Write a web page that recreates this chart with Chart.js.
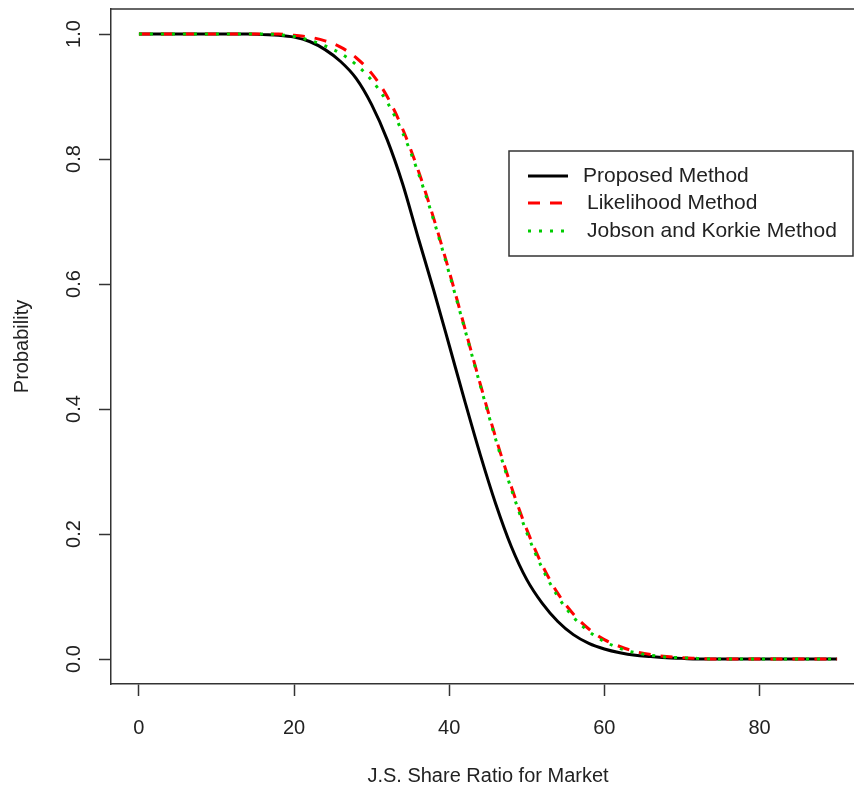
<!DOCTYPE html>
<html>
<head>
<meta charset="utf-8">
<script src="https://cdn.jsdelivr.net/npm/chart.js@4"></script>
<style>
  html, body { margin: 0; padding: 0; background: #fff; overflow: hidden; }
</style>
</head>
<body>
<canvas id="prob-chart" width="880" height="795"></canvas>
<script>
// share ratio values (x) shared by the three curves
const shareRatio = [0, 2, 4, 6, 8, 10, 12, 14, 16, 18, 20, 22, 24, 26, 28, 30, 32, 34, 36, 38, 40, 42, 44,
    46, 48, 50, 52, 54, 56, 58, 60, 62, 64, 66, 68, 70, 72, 74, 76, 78, 80, 82, 84, 86, 88, 90];

const proposedMethod = [1, 1, 1, 1, 1, 1, 1, 1, 0.999, 0.998, 0.995, 0.988, 0.975, 0.956, 0.929, 0.887,
    0.831, 0.760, 0.674, 0.590, 0.502, 0.413, 0.327, 0.248, 0.180, 0.127, 0.089, 0.060, 0.039, 0.025,
    0.016, 0.010, 0.006, 0.004, 0.002, 0.001, 0, 0, 0, 0, 0, 0, 0, 0, 0, 0];

const likelihoodMethod = [1, 1, 1, 1, 1, 1, 1, 1, 1, 1, 0.998, 0.995, 0.989, 0.979, 0.962, 0.937,
    0.900, 0.848, 0.782, 0.705, 0.620, 0.530, 0.440, 0.354, 0.276, 0.207, 0.150, 0.105, 0.072, 0.048,
    0.031, 0.020, 0.012, 0.007, 0.004, 0.002, 0.001, 0, 0, 0, 0, 0, 0, 0, 0, 0];

const jobsonKorkieMethod = [1, 1, 1, 1, 1, 1, 1, 1, 1, 0.999, 0.996, 0.990, 0.981, 0.969, 0.951, 0.926,
    0.891, 0.842, 0.778, 0.702, 0.617, 0.528, 0.438, 0.351, 0.272, 0.202, 0.145, 0.100, 0.067, 0.044,
    0.028, 0.017, 0.010, 0.006, 0.003, 0.002, 0.001, 0, 0, 0, 0, 0, 0, 0, 0, 0];

const xTickValues = [0, 20, 40, 60, 80];
const yTickValues = [0, 0.2, 0.4, 0.6, 0.8, 1.0];

const seriesLabels = ['Proposed Method', 'Likelihood Method', 'Jobson and Korkie Method'];

const toPoints = (ys) => shareRatio.map((x, i) => ({ x: x, y: ys[i] }));

const axisColor = '#333';
const textColor = '#222';
const fontFamily = '"Liberation Sans", Arial, sans-serif';

// y tick labels are rotated like in R, so they are drawn here
const rotatedYLabels = {
    id: 'rotatedYLabels',
    afterDraw(chart) {
        const ctx = chart.ctx;
        const yScale = chart.scales.y;
        ctx.save();
        ctx.fillStyle = textColor;
        ctx.font = '20px ' + fontFamily;
        ctx.textAlign = 'center';
        ctx.textBaseline = 'middle';
        yScale.ticks.forEach(t => {
            const py = yScale.getPixelForValue(t.value);
            ctx.save();
            ctx.translate(74, py);
            ctx.rotate(-Math.PI / 2);
            ctx.fillText(t.value.toFixed(1), 0, 0);
            ctx.restore();
        });
        ctx.restore();
    }
};

// top line of the box and the boxed legend
const boxAndLegend = {
    id: 'boxAndLegend',
    afterDraw(chart) {
        const ctx = chart.ctx;
        const area = chart.chartArea;
        ctx.save();
        ctx.strokeStyle = axisColor;
        ctx.lineWidth = 1.5;
        ctx.beginPath();
        ctx.moveTo(area.left, area.top);
        ctx.lineTo(area.right, area.top);
        ctx.stroke();

        // legend
        ctx.fillStyle = '#fff';
        ctx.fillRect(509, 151, 344, 105);
        ctx.strokeRect(509, 151, 344, 105);
        const rowY = [176, 203, 231];
        const textX = [583, 587, 587];
        chart.data.datasets.forEach((ds, i) => {
            ctx.strokeStyle = ds.borderColor;
            ctx.lineWidth = ds.borderWidth;
            ctx.setLineDash(ds.borderDash || []);
            ctx.beginPath();
            ctx.moveTo(528, rowY[i]);
            ctx.lineTo(568, rowY[i]);
            ctx.stroke();
            ctx.setLineDash([]);
            ctx.fillStyle = textColor;
            ctx.font = '21px ' + fontFamily;
            ctx.textAlign = 'left';
            ctx.textBaseline = 'middle';
            ctx.fillText(ds.label, textX[i], rowY[i]);
        });
        ctx.restore();
    }
};

const chartElement = document.getElementById('prob-chart').getContext('2d');

const probChart = new Chart(chartElement, {
    type: 'line',
    data: {
        datasets: [{
            label: seriesLabels[0],
            data: toPoints(proposedMethod),
            borderColor: '#000000',
            borderWidth: 3,
            order: 3
        }, {
            label: seriesLabels[1],
            data: toPoints(likelihoodMethod),
            borderColor: '#ff0000',
            borderWidth: 3,
            borderDash: [12, 10],
            order: 2
        }, {
            label: seriesLabels[2],
            data: toPoints(jobsonKorkieMethod),
            borderColor: '#00cc00',
            borderWidth: 3,
            borderDash: [3, 8],
            order: 1
        }]
    },
    options: {
        responsive: false,
        animation: false,
        devicePixelRatio: 1,
        layout: { padding: { top: 9, right: 15, left: 0, bottom: 0 } },
        elements: {
            point: { radius: 0 },
            line: { cubicInterpolationMode: 'monotone', fill: false }
        },
        plugins: {
            legend: { display: false },
            tooltip: { enabled: false }
        },
        scales: {
            x: {
                type: 'linear',
                min: -3.6,
                max: 93.6,
                afterBuildTicks: s => { s.ticks = xTickValues.map(v => ({ value: v })); },
                afterFit: s => { s.height = 111; },
                grid: { drawOnChartArea: false, drawTicks: true, tickLength: 12, color: axisColor, tickWidth: 1.5 },
                border: { display: true, color: axisColor, width: 1.5 },
                ticks: {
                    color: textColor,
                    font: { family: fontFamily, size: 20 },
                    padding: 20,
                    maxRotation: 0,
                    callback: v => String(v)
                },
                title: {
                    display: true,
                    text: 'J.S. Share Ratio for Market',
                    color: textColor,
                    font: { family: fontFamily, size: 20 },
                    padding: { top: 0, bottom: 7 }
                }
            },
            y: {
                type: 'linear',
                min: -0.04,
                max: 1.04,
                afterBuildTicks: s => { s.ticks = yTickValues.map(v => ({ value: v })); },
                afterFit: s => { s.width = 111; },
                grid: { drawOnChartArea: false, drawTicks: true, tickLength: 12, color: axisColor, tickWidth: 1.5 },
                border: { display: true, color: axisColor, width: 1.5 },
                ticks: { display: false },
                title: {
                    display: true,
                    text: 'Probability',
                    color: textColor,
                    font: { family: fontFamily, size: 20 },
                    padding: { top: 10, bottom: 0 }
                }
            }
        }
    },
    plugins: [rotatedYLabels, boxAndLegend]
});
</script>
</body>
</html>
